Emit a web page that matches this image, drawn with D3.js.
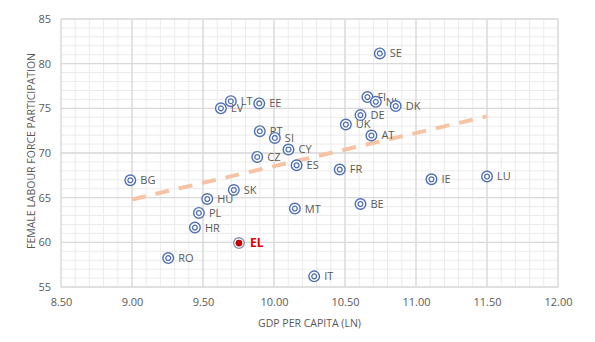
<!DOCTYPE html>
<html>
<head>
<meta charset="utf-8">
<script src="https://cdn.jsdelivr.net/npm/d3@7"></script>
<style>
  html, body { margin: 0; padding: 0; background: #fff; }
  svg { display: block; font-family: "Open Sans", "Liberation Sans", sans-serif; }
</style>
</head>
<body>
<svg id="chart" width="595" height="342"></svg>
<script>
// Country codes, log GDP per capita and female labour force participation (%)
const countries = ["SE","FI","NL","DK","DE","UK","AT","LT","LV","EE","PT","SI","CY","CZ","ES","FR","IE","LU","BG","SK","HU","MT","BE","PL","HR","EL","RO","IT"];
const gdpLn =     [10.745,10.658,10.717,10.857,10.609,10.506,10.686,9.696,9.626,9.896,9.90,10.006,10.102,9.882,10.159,10.463,11.109,11.50,8.988,9.717,9.530,10.147,10.609,9.471,9.443,9.753,9.255,10.283];
const femaleLfp = [81.15,76.26,75.73,75.25,74.24,73.19,71.96,75.8,75.0,75.55,72.44,71.69,70.39,69.56,68.63,68.15,67.06,67.37,66.95,65.86,64.85,63.78,64.29,63.29,61.65,59.92,58.24,56.19];
const highlight = "EL";

// Linear trend endpoints
const trendX = [9.0, 11.5];
const trendY = [64.8, 74.1];

const xTicks = [8.5, 9.0, 9.5, 10.0, 10.5, 11.0, 11.5, 12.0];
const yTicks = [55, 60, 65, 70, 75, 80, 85];

const svg = d3.select("#chart");
const plotLeft = 61, plotRight = 558, plotTop = 19, plotBottom = 287;

const x = d3.scaleLinear().domain([8.5, 12]).range([plotLeft, plotRight]);
const y = d3.scaleLinear().domain([55, 85]).range([plotBottom, plotTop]);

// Minor gridlines
const minorX = d3.range(8.5, 12.0001, 0.1);
const minorY = d3.range(55, 85.0001, 1);
svg.append("g").selectAll("line").data(minorX).join("line")
  .attr("x1", d => x(d)).attr("x2", d => x(d))
  .attr("y1", plotTop).attr("y2", plotBottom)
  .attr("stroke", "#ebebeb").attr("stroke-width", 1);
svg.append("g").selectAll("line").data(minorY).join("line")
  .attr("y1", d => y(d)).attr("y2", d => y(d))
  .attr("x1", plotLeft).attr("x2", plotRight)
  .attr("stroke", "#ebebeb").attr("stroke-width", 1);

// Major gridlines
svg.append("g").selectAll("line").data(xTicks).join("line")
  .attr("x1", d => x(d)).attr("x2", d => x(d))
  .attr("y1", plotTop).attr("y2", plotBottom)
  .attr("stroke", "#d9d9d9").attr("stroke-width", 1.3);
svg.append("g").selectAll("line").data(yTicks).join("line")
  .attr("y1", d => y(d)).attr("y2", d => y(d))
  .attr("x1", plotLeft).attr("x2", plotRight)
  .attr("stroke", "#d9d9d9").attr("stroke-width", 1.3);

// Axes (labels only)
const xAxis = svg.append("g").attr("transform", `translate(0,${plotBottom})`)
  .call(d3.axisBottom(x).tickValues(xTicks).tickFormat(d3.format(".2f")).tickSize(0).tickPadding(11));
const yAxis = svg.append("g").attr("transform", `translate(${plotLeft},0)`)
  .call(d3.axisLeft(y).tickValues(yTicks).tickSize(0).tickPadding(10));
[xAxis, yAxis].forEach(a => {
  a.select(".domain").remove();
  a.selectAll("text").attr("fill", "#595959").style("font-size", "11px")
    .style("font-family", "'Open Sans', sans-serif");
});

// Axis titles
svg.append("text")
  .attr("x", (plotLeft + plotRight) / 2).attr("y", 327)
  .attr("text-anchor", "middle").attr("fill", "#595959")
  .style("font-size", "10.5px")
  .text("GDP PER CAPITA (LN)");
svg.append("text")
  .attr("transform", `translate(35,${(plotTop + plotBottom) / 2 - 2}) rotate(-90)`)
  .attr("text-anchor", "middle").attr("fill", "#595959")
  .style("font-size", "10.5px")
  .text("FEMALE LABOUR FORCE PARTICIPATION");

// Trend line
svg.append("line")
  .attr("x1", x(trendX[0])).attr("y1", y(trendY[0]))
  .attr("x2", x(trendX[1])).attr("y2", y(trendY[1]))
  .attr("stroke", "#f6c4a4").attr("stroke-width", 4)
  .attr("stroke-dasharray", "14,10");

// Points
const data = countries.map((c, i) => ({ c, gx: gdpLn[i], fy: femaleLfp[i] }));
const pts = svg.append("g").selectAll("g").data(data).join("g")
  .attr("transform", d => `translate(${x(d.gx)},${y(d.fy)})`);

pts.append("circle").attr("r", 5.3)
  .attr("fill", "#fff")
  .attr("stroke", d => d.c === highlight ? "#8497b0" : "#4f6fb5")
  .attr("stroke-width", 1.4);
pts.append("circle")
  .attr("r", d => d.c === highlight ? 3.4 : 2.4)
  .attr("fill", d => d.c === highlight ? "#c00000" : "#fff")
  .attr("stroke", d => d.c === highlight ? "none" : "#4f6fb5")
  .attr("stroke-width", 1.3);

// Labels
pts.append("text")
  .attr("x", d => d.c === highlight ? 11 : 10)
  .attr("y", 0).attr("dy", "0.36em")
  .attr("fill", d => d.c === highlight ? "#e00000" : "#595959")
  .style("font-size", d => d.c === highlight ? "12px" : "11px")
  .style("font-weight", d => d.c === highlight ? "bold" : "normal")
  .text(d => d.c);
</script>
</body>
</html>
